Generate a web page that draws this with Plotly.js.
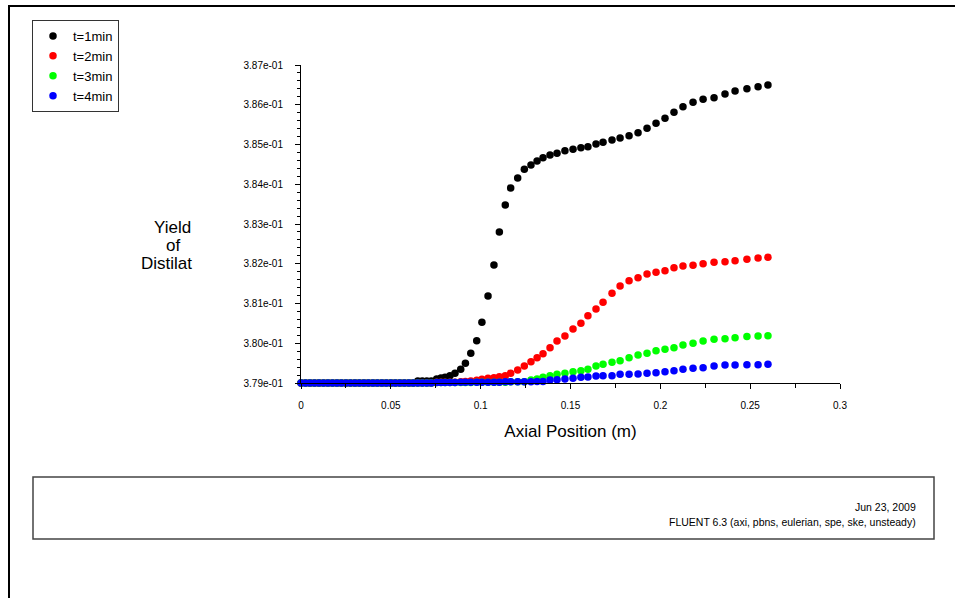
<!DOCTYPE html>
<html>
<head>
<meta charset="utf-8">
<script src="https://cdn.plot.ly/plotly-3.0.1.min.js"></script>
<style>html,body{margin:0;padding:0;background:#fff;}#chart{width:955px;height:598px;}</style>
</head>
<body>
<div id="chart"></div>
<script>
// Axial positions (m) of the mesh cells (shared by all series)
const axialPosition = [
  0, 0.0025, 0.005, 0.0075, 0.01, 0.0125, 0.015, 0.0175, 0.02, 0.0225,
  0.025, 0.0275, 0.03, 0.0325, 0.035, 0.0375, 0.04, 0.0425, 0.045, 0.0475,
  0.05, 0.0525, 0.055, 0.0575, 0.06, 0.0625, 0.065, 0.0675, 0.07, 0.0725,
  0.0755, 0.0779, 0.0802, 0.0829, 0.0857, 0.0889, 0.0915, 0.0945, 0.0978, 0.1007,
  0.1041, 0.1074, 0.1104, 0.1137, 0.1167, 0.1206, 0.1243, 0.1280, 0.1314, 0.1347,
  0.1386, 0.1425, 0.1469, 0.1514, 0.1558, 0.1597, 0.1642, 0.1681, 0.1731, 0.1776,
  0.1826, 0.1876, 0.1926, 0.1976, 0.2026, 0.2076, 0.2126, 0.2182, 0.2238, 0.2299,
  0.2360, 0.2416, 0.2482, 0.2544, 0.2599
];

const yieldT1 = [
  0.379, 0.379, 0.379, 0.379, 0.379, 0.379, 0.379, 0.379, 0.379, 0.379,
  0.379, 0.379, 0.379, 0.379, 0.379, 0.379, 0.379, 0.379, 0.379, 0.379,
  0.379, 0.379, 0.379, 0.379, 0.379, 0.379, 0.37905, 0.37905, 0.37905, 0.37905,
  0.379101, 0.379126, 0.379143, 0.379184, 0.379244, 0.379345, 0.379496, 0.379747, 0.380064, 0.380527,
  0.381189, 0.381969, 0.382799, 0.383478, 0.383906, 0.384157, 0.384376, 0.384484, 0.384585, 0.384668,
  0.384736, 0.384778, 0.384844, 0.384879, 0.384919, 0.384945, 0.385013, 0.385055, 0.385113, 0.385164,
  0.385221, 0.385297, 0.385407, 0.385533, 0.385659, 0.385810, 0.385951, 0.386062, 0.386137, 0.386177,
  0.386270, 0.386346, 0.386404, 0.386454, 0.386497
];

const yieldT2 = [
  0.379, 0.379, 0.379, 0.379, 0.379, 0.379, 0.379, 0.379, 0.379, 0.379,
  0.379, 0.379, 0.379, 0.379, 0.379, 0.379, 0.379, 0.379, 0.379, 0.379,
  0.379, 0.379, 0.379, 0.379, 0.379, 0.379, 0.379, 0.379, 0.379, 0.379,
  0.37902, 0.37902, 0.37902, 0.37902, 0.37902, 0.37903, 0.37904, 0.37905, 0.37907, 0.379093,
  0.379118, 0.379133, 0.379158, 0.379184, 0.379244, 0.379327, 0.379428, 0.379536, 0.379636, 0.379737,
  0.379888, 0.380057, 0.380182, 0.380358, 0.380502, 0.380693, 0.380862, 0.381030, 0.381257, 0.381440,
  0.381574, 0.381649, 0.381742, 0.381785, 0.381825, 0.381901, 0.381943, 0.381961, 0.382001, 0.382036,
  0.382052, 0.382077, 0.382112, 0.382145, 0.382162
];

const yieldT3 = [
  0.379, 0.379, 0.379, 0.379, 0.379, 0.379, 0.379, 0.379, 0.379, 0.379,
  0.379, 0.379, 0.379, 0.379, 0.379, 0.379, 0.379, 0.379, 0.379, 0.379,
  0.379, 0.379, 0.379, 0.379, 0.379, 0.379, 0.379, 0.379, 0.379, 0.379,
  0.37901, 0.37901, 0.37901, 0.37901, 0.37901, 0.37901, 0.37901, 0.37901, 0.37902, 0.37902,
  0.37902, 0.37902, 0.37902, 0.37902, 0.37903, 0.37903, 0.379033, 0.379075, 0.379101, 0.379143,
  0.379184, 0.379219, 0.379244, 0.379284, 0.379309, 0.379345, 0.379428, 0.379470, 0.379521, 0.379561,
  0.379636, 0.379704, 0.379747, 0.379813, 0.379848, 0.379888, 0.379956, 0.379999, 0.380057, 0.380099,
  0.380115, 0.380140, 0.380170, 0.380182, 0.380190
];

const yieldT4 = [
  0.379, 0.379, 0.379, 0.379, 0.379, 0.379, 0.379, 0.379, 0.379, 0.379,
  0.379, 0.379, 0.379, 0.379, 0.379, 0.379, 0.379, 0.379, 0.379, 0.379,
  0.379, 0.379, 0.379, 0.379, 0.379, 0.379, 0.379, 0.379, 0.379, 0.379,
  0.37901, 0.37901, 0.37901, 0.37901, 0.37901, 0.37902, 0.37902, 0.37902, 0.37902, 0.37902,
  0.37902, 0.37902, 0.37902, 0.37903, 0.37903, 0.37903, 0.37903, 0.37903, 0.379035, 0.37904,
  0.379075, 0.37908, 0.379101, 0.379118, 0.379143, 0.379150, 0.379176, 0.379180, 0.379184, 0.379219,
  0.379222, 0.379226, 0.379244, 0.379259, 0.379284, 0.379309, 0.379345, 0.379370, 0.379385, 0.379428,
  0.379450, 0.379455, 0.379458, 0.379462, 0.379470
];

const seriesNames = ["t=1min", "t=2min", "t=3min", "t=4min"];
const seriesColors = ["#000000", "#ff0000", "#00ff00", "#0000ff"];

const xTickVals = [0, 0.05, 0.1, 0.15, 0.2, 0.25, 0.3];
const xTickText = ["0", "0.05", "0.1", "0.15", "0.2", "0.25", "0.3"];
const yTickVals = [0.379, 0.380, 0.381, 0.382, 0.383, 0.384, 0.385, 0.386, 0.387];
const yTickText = ["3.79e-01", "3.80e-01", "3.81e-01", "3.82e-01", "3.83e-01", "3.84e-01", "3.85e-01", "3.86e-01", "3.87e-01"];

const xTitle = "Axial Position (m)";
const yTitleLines = ["Yield", "of", "Distilat"];
const footerDate = "Jun 23, 2009";
const footerInfo = "FLUENT 6.3 (axi, pbns, eulerian, spe, ske, unsteady)";

const ySeries = [yieldT1, yieldT2, yieldT3, yieldT4];
const traces = ySeries.map((ys, i) => ({
  type: "scatter",
  mode: "markers",
  name: seriesNames[i],
  x: axialPosition,
  y: ys,
  cliponaxis: false,
  marker: {symbol: "circle", size: 7.5, color: seriesColors[i], line: {width: 0}}
}));

const W = 955, H = 598, ML = 301, MR = 115, MT = 65, MB = 215;
const PW = W - ML - MR, PH = H - MT - MB;
const px = v => (v - ML) / PW;          // pixel -> paper x
const py = v => (H - MB - v) / PH;      // pixel -> paper y

const yTitleY = [227, 245, 263];
const yTitleX = [172, 173, 166];
const annotations = yTitleLines.map((t, i) => ({
  xref: "paper", yref: "paper", x: px(yTitleX[i]), y: py(yTitleY[i]), text: t, showarrow: false,
  xanchor: "center", yanchor: "middle", font: {size: 17, color: "#000"}
}));
annotations.push(
  {xref: "paper", yref: "paper", x: px(918), y: py(507), text: footerDate, showarrow: false, align: "right",
   xanchor: "right", yanchor: "middle", font: {size: 10.5, color: "#000"}},
  {xref: "paper", yref: "paper", x: px(918), y: py(522), text: footerInfo, showarrow: false, align: "right",
   xanchor: "right", yanchor: "middle", font: {size: 10.5, color: "#000"}}
);

const layout = {
  width: W, height: H,
  paper_bgcolor: "#ffffff", plot_bgcolor: "#ffffff",
  margin: {l: ML, r: MR, t: MT, b: MB, pad: 0},
  font: {family: "Liberation Sans, Arial, sans-serif", color: "#000", size: 10},
  showlegend: true,
  legend: {
    xref: "container", yref: "container",
    x: 32 / W, y: 1 - 20 / H, xanchor: "left", yanchor: "top",
    bgcolor: "#ffffff", bordercolor: "#333", borderwidth: 1,
    font: {size: 13, color: "#000"},
    itemwidth: 30, tracegroupgap: 0
  },
  xaxis: {
    range: [0, 0.3], showgrid: false, zeroline: false,
    showline: true, linecolor: "#000", linewidth: 1,
    ticks: "outside", ticklen: 5, tickcolor: "#000", tickwidth: 1,
    tickmode: "array", tickvals: xTickVals, ticktext: xTickText,
    tickfont: {size: 10, color: "#000"}, ticklabelstandoff: 8,
    minor: {tickmode: "linear", tick0: 0, dtick: 0.025, ticks: "outside", ticklen: 4, tickcolor: "#000", showgrid: false},
    title: {text: xTitle, font: {size: 17, color: "#000"}, standoff: 15},
    automargin: false
  },
  yaxis: {
    range: [0.379, 0.387], showgrid: false, zeroline: false,
    showline: true, linecolor: "#000", linewidth: 1,
    ticks: "outside", ticklen: 5, tickcolor: "#000", tickwidth: 1,
    tickmode: "array", tickvals: yTickVals, ticktext: yTickText,
    tickfont: {size: 10, color: "#000"}, ticklabelstandoff: 10,
    minor: {tickmode: "linear", tick0: 0.379, dtick: 0.0002, ticks: "outside", ticklen: 3, tickcolor: "#000", showgrid: false},
    automargin: false
  },
  shapes: [
    {type: "line", xref: "paper", yref: "paper", x0: px(8), x1: px(955), y0: py(6), y1: py(6), line: {color: "#000", width: 2}},
    {type: "line", xref: "paper", yref: "paper", x0: px(9), x1: px(9), y0: py(5), y1: py(598), line: {color: "#000", width: 2}},
    {type: "rect", xref: "paper", yref: "paper", x0: px(33), x1: px(934), y0: py(539), y1: py(477), line: {color: "#444", width: 1.5}}
  ],
  annotations: annotations
};

Plotly.newPlot("chart", traces, layout, {displayModeBar: false, staticPlot: true});
</script>
</body>
</html>
